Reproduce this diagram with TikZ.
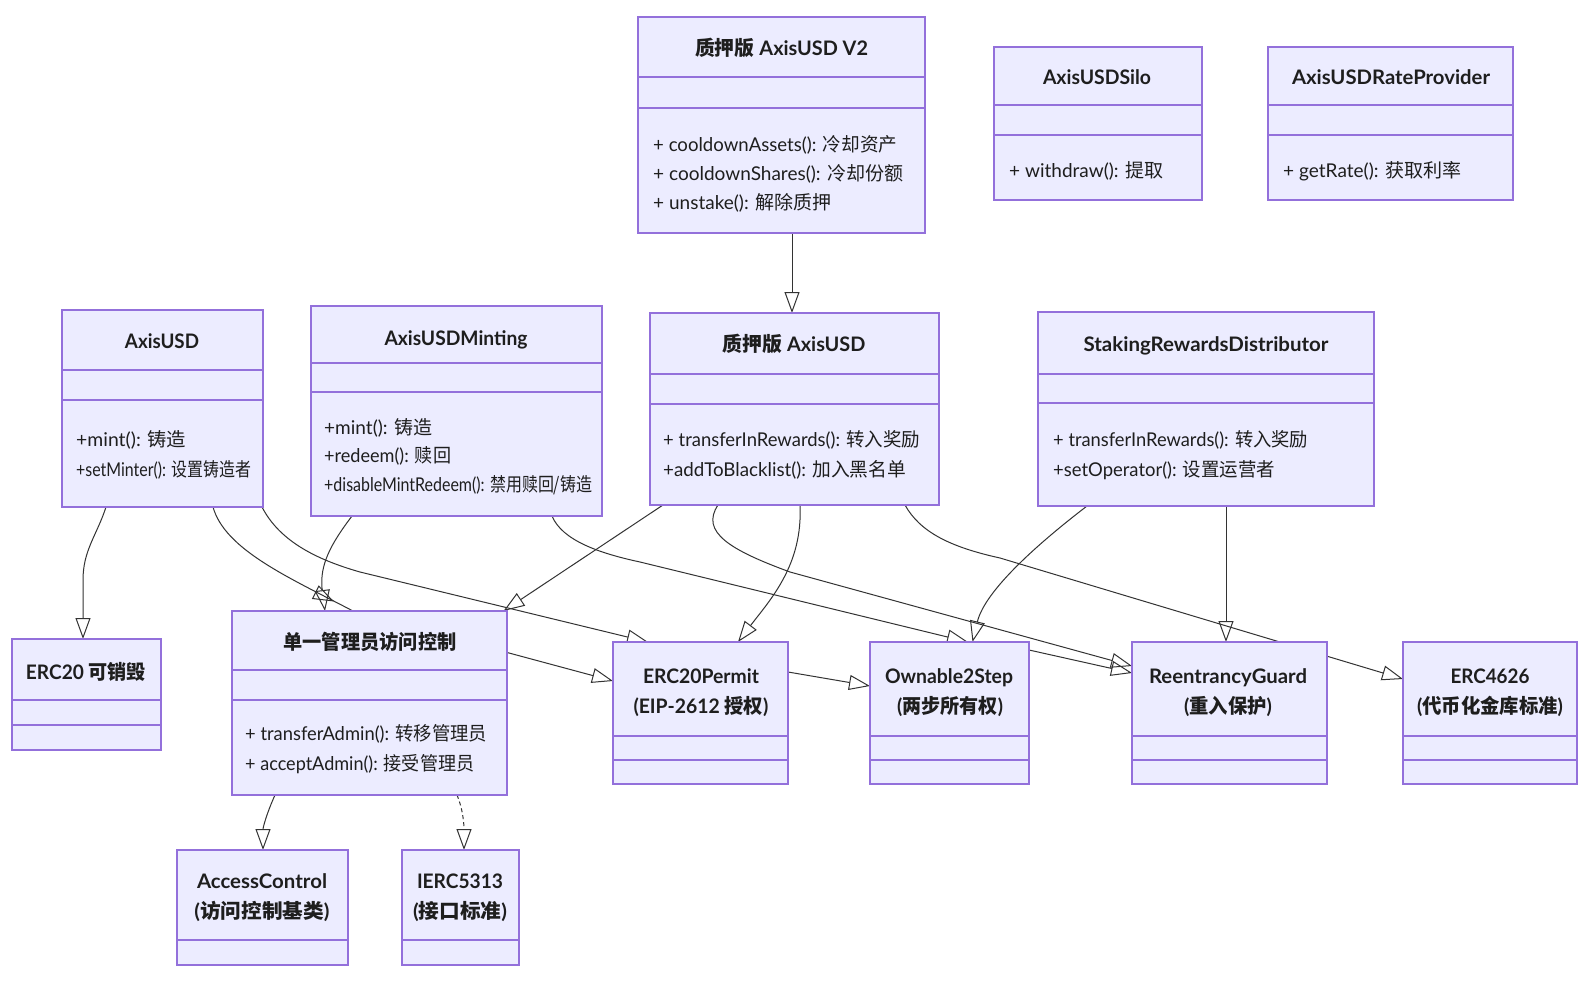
\documentclass[tikz,border=0pt]{standalone}
\usepackage{fontspec}
\usepackage{graphicx}
\setmainfont{Lato}
\newfontfamily\cjk{Noto Sans CJK SC}
\usetikzlibrary{arrows.meta}
\pgfdeclarelayer{bg}
\pgfsetlayers{bg,main}
\definecolor{boxfill}{HTML}{ECECFF}
\definecolor{boxline}{HTML}{9370DB}
\definecolor{ink}{HTML}{1E1E1E}
\definecolor{edgecol}{HTML}{333333}
\newcommand\zh[1]{{\cjk #1}}
\newcommand\fw[2]{\resizebox{#1pt}{\height}{#2}}
\tikzset{
 umlbox/.style={draw=boxline, fill=boxfill, line width=1.4pt, inner sep=0pt, outer sep=0pt},
 umldiv/.style={draw=boxline, line width=1.4pt},
 ttl/.style={inner sep=0pt, text=ink, font=\fontsize{20}{22}\selectfont\bfseries, text height=14pt, text depth=4pt, anchor=center, yshift=-3pt},
 mth/.style={inner sep=0pt, text=ink, font=\fontsize{19}{22}\selectfont, text height=13pt, text depth=4pt, anchor=west, yshift=-2pt},
 inh/.style={draw=edgecol, line width=1pt, -{Triangle[open,length=21pt,width=15pt]}},
 real/.style={inh, dash pattern=on 4pt off 3pt},
}
\newcommand\ubox[7]{%
  \node[umlbox, minimum width={#4-#2}, minimum height={#5-#3}] (#1) at ({(#2+#4)/2},{(#3+#5)/2}) {};
  \draw[umldiv] (#2,#6) -- (#4,#6);
  \draw[umldiv] (#2,#7) -- (#4,#7);
}
\begin{document}
\begin{tikzpicture}[x=1pt,y=-1pt]
\begin{pgfonlayer}{bg}
\fill[white] (0,0) rectangle (1593,987);
\end{pgfonlayer}
\useasboundingbox (0,0) rectangle (1593,987);

% boxes
\ubox{v2}{638}{17}{925}{233}{77}{108}
\ubox{silo}{994}{47}{1202}{200}{105}{135}
\ubox{rate}{1268}{47}{1513}{200}{105}{135}
\ubox{axisusd}{62}{310}{263}{507}{370}{400}
\ubox{minting}{311}{306}{602}{516}{363}{392}
\ubox{staked}{650}{313}{939}{505}{374}{404}
\ubox{srd}{1038}{312}{1374}{506}{374}{403}
\ubox{burn}{12}{639}{161}{750}{700}{725}
\ubox{single}{232}{611}{507}{795}{670}{700}
\ubox{permit}{613}{642}{788}{784}{736}{760}
\ubox{owner}{870}{642}{1029}{784}{736}{760}
\ubox{reent}{1132}{642}{1327}{784}{736}{760}
\ubox{eivault}{1403}{642}{1577}{784}{736}{760}
\ubox{access}{177}{850}{348}{965}{940}{940}
\ubox{ierc}{402}{850}{519}{965}{940}{940}

% titles
\node[ttl] (v2t) at (781.5,48) {\fw{173}{\zh{质押版} AxisUSD V2}};
\node[ttl] (silot) at (1097,77) {\fw{108}{AxisUSDSilo}};
\node[ttl] (ratet) at (1391,77) {\fw{198}{AxisUSDRateProvider}};
\node[ttl] (axisusdt) at (162,340) {\fw{74}{AxisUSD}};
\node[ttl] (mintingt) at (456,337) {\fw{143}{AxisUSDMinting}};
\node[ttl] (stakedt) at (794,343) {\fw{143}{\zh{质押版} AxisUSD}};
\node[ttl] (srdt) at (1206,343) {\fw{245}{StakingRewardsDistributor}};
\node[ttl] (burnt) at (86,671) {\fw{120}{ERC20 \zh{可销毁}}};
\node[ttl] (singlet) at (370,641) {\fw{173}{\zh{单一管理员访问控制}}};
\node[ttl] (permitt) at (701,675) {\fw{116}{ERC20Permit}};
\node[ttl] (permitu) at (701,705) {\fw{135}{(EIP-2612 \zh{授权})}};
\node[ttl] (ownert) at (949,675) {\fw{128}{Ownable2Step}};
\node[ttl] (owneru) at (950,705) {\fw{106}{(\zh{两步所有权})}};
\node[ttl] (reentt) at (1228,675) {\fw{158}{ReentrancyGuard}};
\node[ttl] (reentu) at (1228,705) {\fw{88}{(\zh{重入保护})}};
\node[ttl] (eivaultt) at (1490,675) {\fw{79}{ERC4626}};
\node[ttl] (eivaultu) at (1490,705) {\fw{146}{(\zh{代币化金库标准})}};
\node[ttl] (accesst) at (262,880) {\fw{130}{AccessControl}};
\node[ttl] (accessu) at (262,910) {\fw{135}{(\zh{访问控制基类})}};
\node[ttl] (iercT) at (460,880) {\fw{86}{IERC5313}};
\node[ttl] (iercu) at (460,910) {\fw{94}{(\zh{接口标准})}};

% methods
\node[mth] (v2a) at (653,145) {\fw{244}{+ cooldownAssets(): \zh{冷却资产}}};
\node[mth] (v2b) at (653,174) {\fw{250}{+ cooldownShares(): \zh{冷却份额}}};
\node[mth] (v2c) at (653,203) {\fw{178}{+ unstake(): \zh{解除质押}}};
\node[mth] (siloa) at (1009,171) {\fw{154}{+ withdraw(): \zh{提取}}};
\node[mth] (ratea) at (1283,171) {\fw{178}{+ getRate(): \zh{获取利率}}};
\node[mth] (axisusda) at (76,440) {\fw{110}{+mint(): \zh{铸造}}};
\node[mth] (axisusdb) at (76,470) {\fw{175}{+setMinter(): \zh{设置铸造者}}};
\node[mth] (mintinga) at (324,428) {\fw{108}{+mint(): \zh{铸造}}};
\node[mth] (mintingb) at (324,456) {\fw{127}{+redeem(): \zh{赎回}}};
\node[mth] (mintingc) at (324,485) {\fw{268}{+disableMintRedeem(): \zh{禁用赎回/铸造}}};
\node[mth] (stakeda) at (663,440) {\fw{257}{+ transferInRewards(): \zh{转入奖励}}};
\node[mth] (stakedb) at (663,470) {\fw{243}{+addToBlacklist(): \zh{加入黑名单}}};
\node[mth] (srda) at (1053,440) {\fw{255}{+ transferInRewards(): \zh{转入奖励}}};
\node[mth] (srdb) at (1053,470) {\fw{222}{+setOperator(): \zh{设置运营者}}};
\node[mth] (singlea) at (245,734) {\fw{242}{+ transferAdmin(): \zh{转移管理员}}};
\node[mth] (singleb) at (245,764) {\fw{229}{+ acceptAdmin(): \zh{接受管理员}}};

% connectors (behind boxes)
\begin{pgfonlayer}{bg}
\draw[inh] ([xshift=10.5pt]v2.south) -- ([xshift=-2.5pt]staked.north);
\draw[inh] ([xshift=-56.5pt]axisusd.south) .. controls (97,535) and (83,550) .. (83,580) -- ([xshift=-3.5pt]burn.north);
\draw[inh] ([xshift=50.5pt]axisusd.south) .. controls (225,550) and (290,578) .. (353,611) -- ([yshift=32pt]permit.west);
\coordinate (axmid) at (315,592);
\coordinate (axtip) at (334,601.5);
\draw[inh] (axmid) -- (axtip);
\draw[inh] ([xshift=99.5pt]axisusd.south) .. controls (280,542) and (318,560) .. (360,572) -- ([xshift=-52.5pt]permit.north);
\draw[inh] ([xshift=-104.5pt]minting.south) .. controls (330,545) and (320,565) .. (322,588) -- ([xshift=-44.5pt]single.north);
\draw[inh] ([xshift=95.5pt]minting.south) .. controls (562,540) and (598,553) .. (640,562) -- ([xshift=18.5pt]owner.north);
\draw[inh] ([xshift=-131.5pt]staked.south) -- ([xshift=134pt]single.north);
\draw[inh] ([xshift=5.5pt]staked.south) .. controls (803,565) and (770,600) .. ([xshift=37.5pt]permit.north);
\draw[inh] ([xshift=-76.5pt]staked.south) .. controls (700,532) and (730,550) .. (790,572) -- ([yshift=47pt]reent.west);
\draw[inh] ([xshift=110.5pt]staked.south) .. controls (920,532) and (950,547) .. (1000,558) -- ([yshift=34pt]eivault.west);
\draw[inh] ([xshift=-119pt]srd.south) .. controls (1040,542) and (985,590) .. ([xshift=23pt]owner.north);
\draw[inh] ([xshift=20pt]srd.south) -- ([xshift=-3.5pt]reent.north);
\draw[inh] ([yshift=41pt]permit.east) -- ([yshift=27pt]owner.west);
\draw[inh] ([yshift=63pt]owner.east) -- ([yshift=40pt]reent.west);
\draw[inh] ([xshift=-94.5pt]single.south) .. controls (266,815) and (263,828) .. ([xshift=0.5pt]access.north);
\draw[real] ([xshift=87.5pt]single.south) .. controls (464,812) and (464,828) .. ([xshift=3.5pt]ierc.north);
\end{pgfonlayer}
\end{tikzpicture}
\end{document}
